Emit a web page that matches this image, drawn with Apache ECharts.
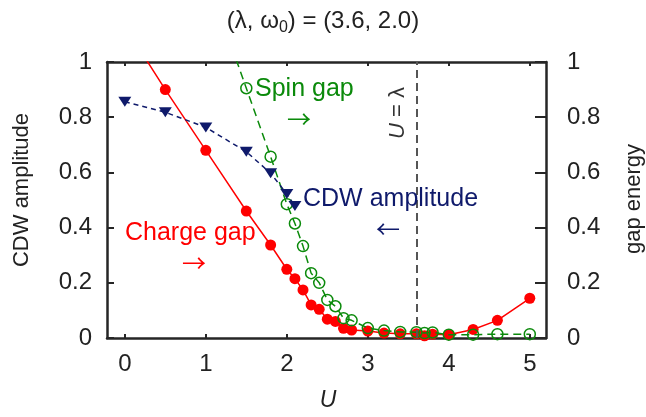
<!DOCTYPE html>
<html>
<head>
<meta charset="utf-8">
<script src="https://cdn.jsdelivr.net/npm/echarts@6/dist/echarts.min.js"></script>
<style>
  html, body { margin: 0; padding: 0; background: #fff; }
  #chart { width: 646px; height: 417px; }
</style>
</head>
<body>
<div id="chart"></div>
<script>
// Charge gap (right axis, gap energy)
const chargeU   = [0, 0.5, 1.0, 1.5, 1.8, 2.0, 2.1, 2.2, 2.3, 2.4, 2.5, 2.6, 2.7, 2.8, 3.0, 3.2, 3.4, 3.6, 3.7, 3.8, 4.0, 4.3, 4.6, 5.0];
const chargeGap = [1.13, 0.90, 0.68, 0.46, 0.337, 0.249, 0.215, 0.174, 0.12, 0.104, 0.068, 0.06, 0.035, 0.029, 0.025, 0.018, 0.015, 0.015, 0.008, 0.014, 0.012, 0.031, 0.064, 0.144];

// Spin gap (right axis, gap energy)
const spinU   = [1.0, 1.5, 1.8, 2.0, 2.1, 2.2, 2.3, 2.4, 2.5, 2.6, 2.7, 2.8, 3.0, 3.2, 3.4, 3.6, 3.7, 3.8, 4.0, 4.3, 4.6, 5.0];
const spinGap = [1.32, 0.905, 0.657, 0.485, 0.415, 0.333, 0.235, 0.2, 0.138, 0.115, 0.072, 0.064, 0.036, 0.027, 0.022, 0.021, 0.018, 0.02, 0.012, 0.012, 0.014, 0.014];

// CDW amplitude (left axis)
const cdwU   = [0, 0.5, 1.0, 1.5, 1.8, 2.0, 2.1];
const cdwAmp = [0.856, 0.818, 0.763, 0.675, 0.597, 0.522, 0.478];

// Axis ticks
const xTicks = [0, 1, 2, 3, 4, 5];
const lambdaU = 3.6;

const FONT = '"Liberation Sans", Arial, Helvetica, sans-serif';
const ARROW_FONT = '"Noto Sans CJK SC", "DejaVu Sans", sans-serif';
const RED = '#ff0000';
const GREEN = '#0b8a0b';
const NAVY = '#0f1a6b';
const FRAME = '#262626';

const pairs = (xs, ys) => xs.map((x, i) => [x, ys[i]]);

const chart = echarts.init(document.getElementById('chart'), null, { renderer: 'canvas' });

const frameLine = { show: true, onZero: false, lineStyle: { color: FRAME, width: 2.5 } };
const tickLabel = { color: '#222', fontFamily: FONT, fontSize: 24 };

const option = {
  animation: false,
  backgroundColor: '#fff',
  title: {
    text: '(λ, ω{sub|0}) = (3.6, 2.0)',
    left: 'center',
    top: 2,
    textStyle: {
      fontFamily: FONT, fontSize: 24, fontWeight: 'normal', color: '#222',
      rich: { sub: { fontFamily: FONT, fontSize: 16, color: '#222', padding: [13, 0, 0, 0] } }
    }
  },
  grid: { left: 107, top: 62, width: 439, height: 276, containLabel: false },
  xAxis: [
    {
      type: 'value', position: 'bottom', min: -0.22, max: 5.2,
      axisLine: frameLine,
      axisTick: { show: true, inside: true, length: 4, customValues: xTicks, lineStyle: { color: FRAME, width: 2 } },
      axisLabel: Object.assign({ margin: 14, customValues: xTicks }, tickLabel),
      splitLine: { show: false }
    },
    {
      type: 'value', position: 'top', min: -0.22, max: 5.2,
      axisLine: frameLine,
      axisTick: { show: true, inside: true, length: 4, customValues: xTicks, lineStyle: { color: FRAME, width: 2 } },
      axisLabel: { show: false },
      splitLine: { show: false }
    }
  ],
  yAxis: [
    {
      type: 'value', position: 'left', min: 0, max: 1, interval: 0.2,
      axisLine: frameLine,
      axisTick: { show: true, inside: true, length: 7, lineStyle: { color: FRAME, width: 2 } },
      axisLabel: Object.assign({ margin: 15 }, tickLabel),
      splitLine: { show: false }
    },
    {
      type: 'value', position: 'right', min: 0, max: 1, interval: 0.2,
      axisLine: frameLine,
      axisTick: { show: true, inside: true, length: 11, lineStyle: { color: FRAME, width: 2 } },
      axisLabel: Object.assign({ margin: 21 }, tickLabel),
      splitLine: { show: false }
    }
  ],
  series: [
    {
      name: 'Charge gap', type: 'line', xAxisIndex: 0, yAxisIndex: 1,
      data: pairs(chargeU, chargeGap),
      symbol: 'circle', symbolSize: 11,
      lineStyle: { color: RED, width: 1.5 },
      itemStyle: { color: RED },
      clip: true, z: 2,
      markLine: {
        silent: true, symbol: 'none', label: { show: false },
        lineStyle: { color: '#555', width: 2, type: [8, 5] },
        data: [{ xAxis: lambdaU }]
      }
    },
    {
      name: 'Spin gap', type: 'line', xAxisIndex: 0, yAxisIndex: 1,
      data: pairs(spinU, spinGap),
      symbol: 'circle', symbolSize: 11,
      lineStyle: { color: GREEN, width: 1.5, type: [8, 5] },
      itemStyle: { color: 'rgba(255,255,255,0)', borderColor: GREEN, borderWidth: 1.5 },
      clip: true, z: 3
    },
    {
      name: 'CDW amplitude', type: 'line', xAxisIndex: 0, yAxisIndex: 0,
      data: pairs(cdwU, cdwAmp),
      symbol: 'triangle', symbolRotate: 180, symbolSize: [13, 10],
      lineStyle: { color: NAVY, width: 1.5, type: [5, 4] },
      itemStyle: { color: NAVY },
      clip: true, z: 4
    }
  ],
  graphic: [
    { type: 'text', x: 255, y: 89, style: { text: 'Spin gap', fill: GREEN, font: '25px ' + FONT, textAlign: 'left', textVerticalAlign: 'middle' }, z: 10 },
    { type: 'text', x: 299, y: 119, style: { text: '→', fill: GREEN, font: '24px ' + ARROW_FONT, textAlign: 'center', textVerticalAlign: 'middle' }, z: 10 },
    { type: 'text', x: 303, y: 199, style: { text: 'CDW amplitude', fill: NAVY, font: '25px ' + FONT, textAlign: 'left', textVerticalAlign: 'middle' }, z: 10 },
    { type: 'text', x: 388, y: 229, style: { text: '←', fill: NAVY, font: '24px ' + ARROW_FONT, textAlign: 'center', textVerticalAlign: 'middle' }, z: 10 },
    { type: 'text', x: 125, y: 233, style: { text: 'Charge gap', fill: RED, font: '25px ' + FONT, textAlign: 'left', textVerticalAlign: 'middle' }, z: 10 },
    { type: 'text', x: 194, y: 263, style: { text: '→', fill: RED, font: '24px ' + ARROW_FONT, textAlign: 'center', textVerticalAlign: 'middle' }, z: 10 },
    {
      type: 'text', x: 398, y: 113, rotation: Math.PI / 2,
      style: {
        text: '{i|U} = λ', fill: '#333', font: '22px ' + FONT, textAlign: 'center', textVerticalAlign: 'middle',
        rich: { i: { fontStyle: 'italic', fontFamily: FONT, fontSize: 22, fill: '#333' } }
      }, z: 10
    },
    { type: 'text', x: 22, y: 190, rotation: Math.PI / 2, style: { text: 'CDW amplitude', fill: '#222', font: '22px ' + FONT, textAlign: 'center', textVerticalAlign: 'middle' }, z: 10 },
    { type: 'text', x: 634, y: 199, rotation: Math.PI / 2, style: { text: 'gap energy', fill: '#222', font: '22px ' + FONT, textAlign: 'center', textVerticalAlign: 'middle' }, z: 10 },
    { type: 'text', x: 328, y: 401, style: { text: 'U', fill: '#222', font: 'italic 23px ' + FONT, textAlign: 'center', textVerticalAlign: 'middle' }, z: 10 }
  ]
};

chart.setOption(option);
</script>
</body>
</html>
